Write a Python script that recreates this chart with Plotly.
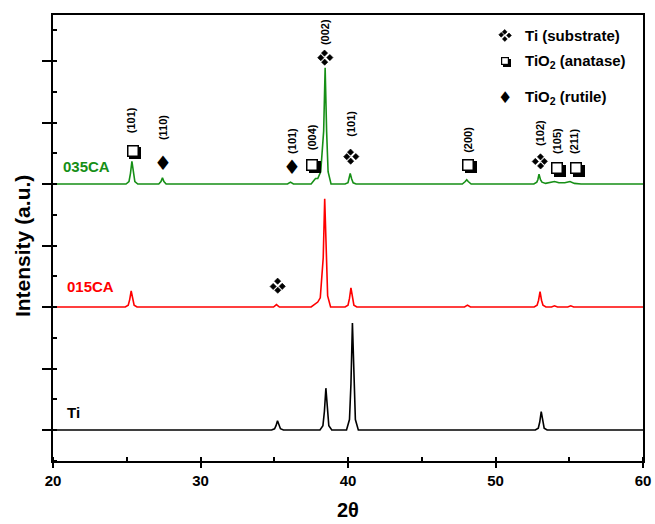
import plotly.graph_objects as go

# ---------------- data ----------------
# Ti substrate (black), raw intensity (a.u.)
ti_2theta = [20.0, 34.82, 35.02, 35.12, 35.22, 35.32, 35.42, 35.62,
             38.10, 38.30, 38.40, 38.50, 38.60, 38.70, 38.90,
             39.90, 40.10, 40.20, 40.30, 40.40, 40.50, 40.70,
             52.70, 52.90, 53.00, 53.10, 53.20, 53.30, 53.50, 60.0]
ti_int = [0.0, 0.0, 0.02, 0.07, 0.15, 0.07, 0.02, 0.0,
          0.0, 0.07, 0.30, 0.68, 0.30, 0.07, 0.0,
          0.0, 0.17, 0.75, 1.74, 0.75, 0.17, 0.0,
          0.0, 0.03, 0.13, 0.30, 0.13, 0.03, 0.0, 0.0]

# 015CA (red)
ca015_2theta = [20.0, 24.90, 25.10, 25.20, 25.30, 25.40, 25.50, 25.70,
                34.95, 35.15, 35.35,
                37.50, 37.80, 37.95, 38.12, 38.32, 38.42, 38.52, 38.62, 38.82,
                39.80, 40.00, 40.10, 40.20, 40.30, 40.40, 40.60,
                47.90, 48.10, 48.30,
                52.62, 52.82, 52.92, 53.02, 53.12, 53.22, 53.42,
                53.80, 54.00, 54.20, 54.90, 55.10, 55.30, 60.0]
ca015_int = [0.0, 0.0, 0.03, 0.12, 0.26, 0.12, 0.03, 0.0,
             0.0, 0.04, 0.0,
             0.0, 0.05, 0.08, 0.15, 0.80, 1.76, 0.80, 0.18, 0.0,
             0.0, 0.03, 0.14, 0.31, 0.14, 0.03, 0.0,
             0.0, 0.03, 0.0,
             0.0, 0.03, 0.11, 0.25, 0.11, 0.03, 0.0,
             0.0, 0.02, 0.0, 0.0, 0.02, 0.0, 0.0]

# 035CA (green)
ca035_2theta = [20.0, 24.95, 25.15, 25.25, 25.35, 25.45, 25.55, 25.75,
                27.17, 27.32, 27.42, 27.52, 27.67,
                35.90, 36.10, 36.30,
                37.50, 37.70, 37.80, 37.95, 38.15, 38.35, 38.45, 38.55, 38.65, 38.85,
                39.80, 40.00, 40.07, 40.15, 40.25, 40.35, 40.55,
                47.75, 47.95, 48.05, 48.15, 48.35,
                52.60, 52.80, 52.87, 52.95, 53.05, 53.15, 53.40,
                53.70, 54.00, 54.30, 54.70, 55.05, 55.35, 55.80, 60.0]
ca035_int = [0.0, 0.0, 0.04, 0.17, 0.37, 0.17, 0.04, 0.0,
             0.0, 0.04, 0.10, 0.04, 0.0,
             0.0, 0.03, 0.0,
             0.0, 0.06, 0.09, 0.09, 0.20, 0.86, 1.89, 0.86, 0.20, 0.0,
             0.0, 0.02, 0.08, 0.17, 0.08, 0.02, 0.0,
             0.0, 0.04, 0.07, 0.04, 0.0,
             0.0, 0.03, 0.07, 0.16, 0.07, 0.03, 0.01,
             0.02, 0.04, 0.02, 0.02, 0.04, 0.01, 0.0, 0.0]

series_names = ["Ti", "015CA", "035CA"]
series_offsets = [0.0, 2.0, 4.0]

# Phase markers: (phase, 2theta, level)
SUB, ANA, RUT = "sub", "ana", "rut"
phase_marks = [
    (ANA, 25.42, 4.54), (RUT, 27.46, 4.34), (RUT, 36.20, 4.28), (ANA, 37.56, 4.31),
    (SUB, 38.44, 6.05), (SUB, 40.20, 4.44), (ANA, 48.14, 4.31), (SUB, 53.02, 4.37),
    (ANA, 54.17, 4.26), (ANA, 55.46, 4.26), (SUB, 35.25, 2.34),
]
# Miller index labels: (text, 2theta, level)
hkl_labels = [
    ("(101)", 25.30, 5.04), ("(110)", 27.46, 4.91), ("(101)", 36.20, 4.70),
    ("(004)", 37.56, 4.76), ("(002)", 38.44, 6.47), ("(101)", 40.20, 4.98),
    ("(200)", 48.14, 4.72), ("(102)", 53.02, 4.83), ("(105)", 54.17, 4.70),
    ("(211)", 55.32, 4.70),
]
legend_items = [(SUB, "Ti (substrate)"), (ANA, "TiO<sub>2</sub> (anatase)"), (RUT, "TiO<sub>2</sub> (rutile)")]

# ---------------- figure ----------------
colors = ["#000000", "#ff0000", "#168f16"]
xs = [ti_2theta, ca015_2theta, ca035_2theta]
ys = [ti_int, ca015_int, ca035_int]

fig = go.Figure()
for name, x, y, off, c in zip(series_names, xs, ys, series_offsets, colors):
    fig.add_trace(go.Scatter(x=x, y=[v + off for v in y], mode="lines", name=name,
                             line=dict(color=c, width=1.6), showlegend=False))

BF = "Liberation Sans, Arial, sans-serif"
SYMF = "DejaVu Sans"
ann = []


def symbol(kind, x, y, big=True):
    out = []
    if kind == ANA:
        s = 9 if big else 6
        sh = 2.5 if big else 2
        bw = 1.5 if big else 1.2
        out.append(dict(x=x, y=y, text=" ", showarrow=False, width=s, height=s,
                        bgcolor="black", borderwidth=bw, bordercolor="black", borderpad=0,
                        xshift=sh, yshift=-sh))
        out.append(dict(x=x, y=y, text=" ", showarrow=False, width=s, height=s,
                        bgcolor="white", borderwidth=bw, bordercolor="black", borderpad=0))
    elif kind == SUB:
        w = 3.5 if big else 2.6
        o = 4.6 if big else 3.6
        for dx, dy in [(0, o), (0, -o), (-o, 0), (o, 0)]:
            out.append(dict(x=x, y=y, text=" ", showarrow=False, width=w, height=w,
                            bgcolor="black", borderwidth=0.6, bordercolor="black", borderpad=0,
                            textangle=45, xshift=dx, yshift=dy))
    else:
        out.append(dict(x=x, y=y, text="\u2666", showarrow=False,
                        font=dict(family=SYMF, size=20 if big else 16, color="black")))
    return out


for k, x, y in phase_marks:
    ann += symbol(k, x, y)
for t, x, y in hkl_labels:
    ann.append(dict(x=x, y=y, text=t, showarrow=False, textangle=-90,
                    font=dict(family=BF, size=11, color="black", weight="bold")))
# sample labels
for name, x, y, c in [("035CA", 20.54, 4.28, colors[2]), ("015CA", 20.81, 2.33, colors[1]), ("Ti", 20.81, 0.28, colors[0])]:
    ann.append(dict(x=x, y=y, text=name, showarrow=False, xanchor="left",
                    font=dict(family=BF, size=15, color=c, weight="bold")))
# legend (drawn as text)
leg_y = [6.42, 6.0, 5.41]
for (s, t), y in zip(legend_items, leg_y):
    ann += symbol(s, 50.64, y, big=False)
    ann.append(dict(x=51.86, y=y, text=t, showarrow=False, xanchor="left",
                    font=dict(family=BF, size=15, color="black", weight="bold")))
# axis titles
ann.append(dict(xref="paper", yref="paper", x=0.5, y=-0.11, text="2\u03b8", showarrow=False,
                xanchor="center", yanchor="middle", font=dict(family=BF, size=20, color="black", weight="bold")))
ann.append(dict(xref="paper", yref="paper", x=-0.0525, y=0.482, text="Intensity (a.u.)", showarrow=False,
                xanchor="center", yanchor="middle", textangle=-90,
                font=dict(family=BF, size=21, color="black", weight="bold")))

fig.update_layout(
    width=655, height=524,
    margin=dict(l=53, r=12, t=15, b=63, autoexpand=False),
    paper_bgcolor="white", plot_bgcolor="white",
    annotations=ann,
    xaxis=dict(range=[20, 60], dtick=10, tick0=20, showgrid=False, zeroline=False, automargin=False,
               showline=True, linecolor="black", linewidth=1.5, mirror=True,
               ticks="outside", ticklen=5, tickwidth=1.5, tickcolor="black",
               tickfont=dict(family=BF, size=15, color="black", weight="bold"),
               minor=dict(dtick=5, ticks="inside", ticklen=4, tickwidth=1.5, tickcolor="black", showgrid=False)),
    yaxis=dict(range=[-0.504, 6.748], dtick=1, tick0=0, showgrid=False, zeroline=False, automargin=False,
               showline=True, linecolor="black", linewidth=1.5, mirror=True,
               ticks="outside", ticklen=9, tickwidth=1.5, tickcolor="black", showticklabels=False,
               minor=dict(dtick=0.5, ticks="inside", ticklen=4, tickwidth=1.5, tickcolor="black", showgrid=False)),
)

fig.write_html("out.html")
